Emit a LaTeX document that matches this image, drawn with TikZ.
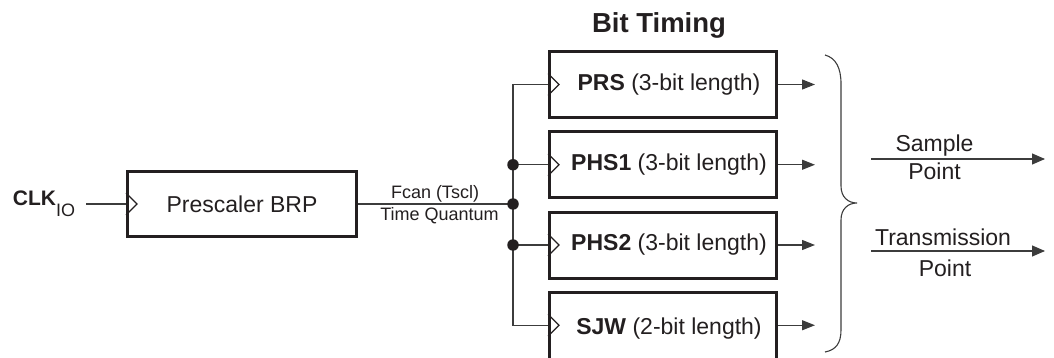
\documentclass[tikz,border=0pt]{standalone}
\usepackage{fontspec}
\setmainfont{Liberation Sans}
\usetikzlibrary{arrows.meta}
\definecolor{ink}{HTML}{231F20}
\definecolor{wire}{HTML}{3C3C3C}
\tikzset{
  blk/.style={draw=ink, line width=3pt, minimum width=227pt, minimum height=66pt, inner sep=0pt, font=\fontsize{23}{23}\selectfont, text=ink},
  wireline/.style={draw=wire, line width=1.1pt},
  clocktri/.style={draw=ink, line width=1.1pt},
  outarrow/.style={wireline, -{Triangle[length=13pt,width=10pt]}},
  lbl/.style={inner sep=0pt, text=ink, anchor=base, font=\fontsize{23}{23}\selectfont},
  small/.style={inner sep=0pt, text=ink, anchor=base, font=\fontsize{18}{18}\selectfont},
  dot/.style={circle, fill=ink, inner sep=0pt, minimum size=11.5pt},
}
\begin{document}
\begin{tikzpicture}[x=1pt,y=-1pt]
\useasboundingbox (0,0) rectangle (1054,358);

% title
\node[lbl, font=\fontsize{27.5}{27.5}\selectfont\bfseries] (title) at (659,32.3) {Bit Timing};

% clock input
\node[inner sep=0pt, anchor=base west, text=ink] (clk) at (12.7,205)
  {{\fontsize{21}{21}\selectfont\bfseries CLK}\raisebox{-11pt}{\fontsize{18}{18}\selectfont IO}};
\coordinate (clkout) at (86,204);

% prescaler
\node[blk, minimum width=229pt, minimum height=65pt] (pre) at (242,204) {Prescaler BRP};
\draw[wireline] (clkout) -- (pre.west);
\draw[clocktri] ([yshift=11pt]pre.west) -- ++(11,11) -- ++(-11,11);

% bit timing blocks
\node[blk] (prs)  at (663,84.5)  {\hspace*{12pt}\textbf{PRS} (3-bit length)};
\node[blk] (phs1) at (663,164.75) {\hspace*{12pt}\textbf{PHS1} (3-bit length)};
\node[blk] (phs2) at (663,245)   {\hspace*{12pt}\textbf{PHS2} (3-bit length)};
\node[blk, minimum height=72pt] (sjw)  at (663,328.25) {\raisebox{3pt}{\hspace*{12pt}\textbf{SJW} (2-bit length)}};
\coordinate (o4) at (815,325.25);
\foreach \b in {prs,phs1,phs2}{
  \draw[clocktri] ([yshift=11pt]\b.west) -- ++(11,11) -- ++(-11,11);
}
\draw[clocktri] ([yshift=11pt]o4 -| sjw.west) -- ++(11,11) -- ++(-11,11);

% bus
\coordinate (j) at (513,204);
\draw[wireline] (pre.east) -- (j);
\draw[wireline] (prs.west) -| (j) |- (o4 -| sjw.west);
\draw[wireline] (j |- phs1.west) -- (phs1.west);
\draw[wireline] (j |- phs2.west) -- (phs2.west);
\node[dot] (d0) at (j) {};
\node[dot] (d1) at (j |- phs1.west) {};
\node[dot] (d2) at (j |- phs2.west) {};

\node[small] (fcan) at (435,198) {Fcan (Tscl)};
\node[small] (tq) at (439.5,220) {Time Quantum};

% outputs
\coordinate (o1) at (815,84.5);
\coordinate (o2) at (815,164.75);
\coordinate (o3) at (815,245);
\draw[outarrow] (prs.east) -- (o1);
\draw[outarrow] (phs1.east) -- (o2);
\draw[outarrow] (phs2.east) -- (o3);
\draw[outarrow] (o4 -| sjw.east) -- (o4);

% brace
\draw[wireline] (825,55) .. controls (836,58) and (841,68) .. (841,84)
  -- (841,186) .. controls (841,197) and (848,203) .. (857,203)
  .. controls (848,203) and (841,209) .. (841,220)
  -- (841,330) .. controls (841,343) and (836,350) .. (825,352);

% sample / transmission points
\coordinate (s1) at (871,159);
\coordinate (s2) at (1045,159);
\draw[wireline, -{Triangle[length=13pt,width=11pt]}] (s1) -- (s2);
\node[lbl] (samp) at (934.5,152) {Sample};
\node[lbl] (sp) at (934.5,180) {Point};

\coordinate (t1) at (871,251);
\coordinate (t2) at (1045,251);
\draw[wireline, -{Triangle[length=13pt,width=11pt]}] (t1) -- (t2);
\node[lbl] (trans) at (943,245) {Transmission};
\node[lbl] (tp) at (945,276) {Point};
\end{tikzpicture}
\end{document}
